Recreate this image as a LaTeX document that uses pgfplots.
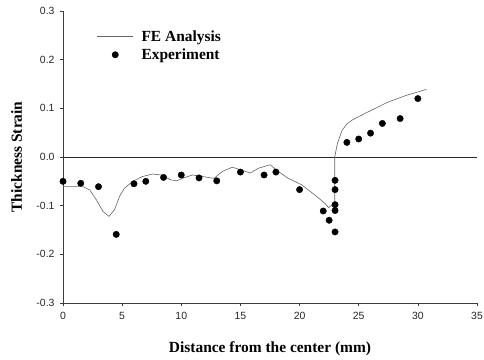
\documentclass[border=0pt]{standalone}
\usepackage{pgfplots}
\pgfplotsset{compat=1.18}
\usepackage{fontspec}
\setmainfont{Liberation Serif}
\newfontfamily\tickfont{Liberation Sans}
\usetikzlibrary{calc}
\definecolor{feline}{RGB}{100,100,100}
\definecolor{axcol}{RGB}{60,60,60}
\pgfplotsset{
  felegend/.style={legend image code/.code={\draw[##1] (0bp,0bp) -- (36bp,0bp);}},
  exlegend/.style={legend image code/.code={\draw[##1] plot coordinates {(18bp,0bp)};}},
}
\begin{document}
\begin{tikzpicture}
\begin{axis}[
  scale only axis, width=414bp, height=292bp,
  xmin=0, xmax=35, ymin=-0.3, ymax=0.3,
  axis x line*=bottom, axis y line*=left,
  axis line style={-, color=axcol, line width=0.6pt},
  xtick={0,5,10,15,20,25,30,35},
  xticklabels={0,5,10,15,20,25,30,35},
  ytick={-0.3,-0.2,-0.1,0,0.1,0.2,0.3},
  yticklabels={-0.3,-0.2,-0.1,0.0,0.1,0.2,0.3},
  tick align=outside, major tick length=3bp,
  tick style={color=axcol, line width=0.5pt},
  ticklabel style={font=\tickfont\fontsize{10.5}{12}\selectfont, color=black!85},
  xticklabel style={yshift=-3bp},
  yticklabel style={xshift=-2bp},
  xlabel={Distance from the center (mm)},
  ylabel={Thickness Strain},
  every axis x label/.style={at={(rel axis cs:0.5,0)}, anchor=base, yshift=-50bp,
    font=\fontsize{15.5}{18}\selectfont\bfseries},
  every axis y label/.style={at={(rel axis cs:0,0.5)}, rotate=90, anchor=base, yshift=41bp,
    font=\fontsize{15.5}{18}\selectfont\bfseries},
  legend style={at={(rel axis cs:0.0815,0.975)}, anchor=north west, yshift=-10bp,
    draw=none, fill=none,
    inner sep=0pt, font=\fontsize{15.5}{18}\selectfont\bfseries,
    row sep=2bp},
  legend cell align=left,
  /tikz/every odd column/.append style={column sep=6bp},
]
\addplot[black!85, line width=0.6pt, forget plot] coordinates {(0,0) (35,0)};
\addplot[feline, line width=0.6pt, felegend]
coordinates {
(0,-0.061) (1.7,-0.061) (2.27,-0.068) (2.82,-0.088) (3.38,-0.112) (3.89,-0.122)
(4.36,-0.108) (4.78,-0.081) (5.2,-0.064) (5.9,-0.050) (6.74,-0.040) (7.58,-0.035)
(8.3,-0.037) (9.12,-0.047) (9.6,-0.049) (10.2,-0.043) (10.94,-0.037) (11.78,-0.040)
(12.76,-0.044) (13.46,-0.030) (14.3,-0.021) (15.0,-0.026) (15.83,-0.033) (16.53,-0.023)
(17.51,-0.016) (18.21,-0.030) (19.05,-0.044) (20.17,-0.057) (21.29,-0.078) (22.13,-0.095)
(22.45,-0.104) (22.9,-0.096) (22.97,-0.096) (22.97,0.0) (23.2,0.028) (23.6,0.055)
(24.0,0.068) (24.45,0.076) (25.4,0.088) (27.4,0.112) (29.06,0.127) (30.73,0.139)
};
\addlegendentry{FE Analysis}
\addplot[only marks, mark=*, mark size=3.2bp, black, exlegend]
coordinates {
(0,-0.050) (1.5,-0.054) (3,-0.061) (4.5,-0.159) (6,-0.055) (7,-0.050) (8.5,-0.042)
(10,-0.037) (11.5,-0.043) (13,-0.049) (15,-0.031) (17,-0.037) (18,-0.031) (20,-0.067)
(22,-0.111) (22.5,-0.130) (23,-0.048) (23,-0.067) (23,-0.098) (23,-0.110) (23,-0.154)
(24,0.030) (25,0.037) (26,0.049) (27,0.069) (28.5,0.079) (30,0.120)
};
\addlegendentry{Experiment}
\end{axis}
\pgfresetboundingbox
\path ($(current axis.south west)+(-63bp,-57bp)$) rectangle ($(current axis.north east)+(7bp,11bp)$);
\end{tikzpicture}
\end{document}
